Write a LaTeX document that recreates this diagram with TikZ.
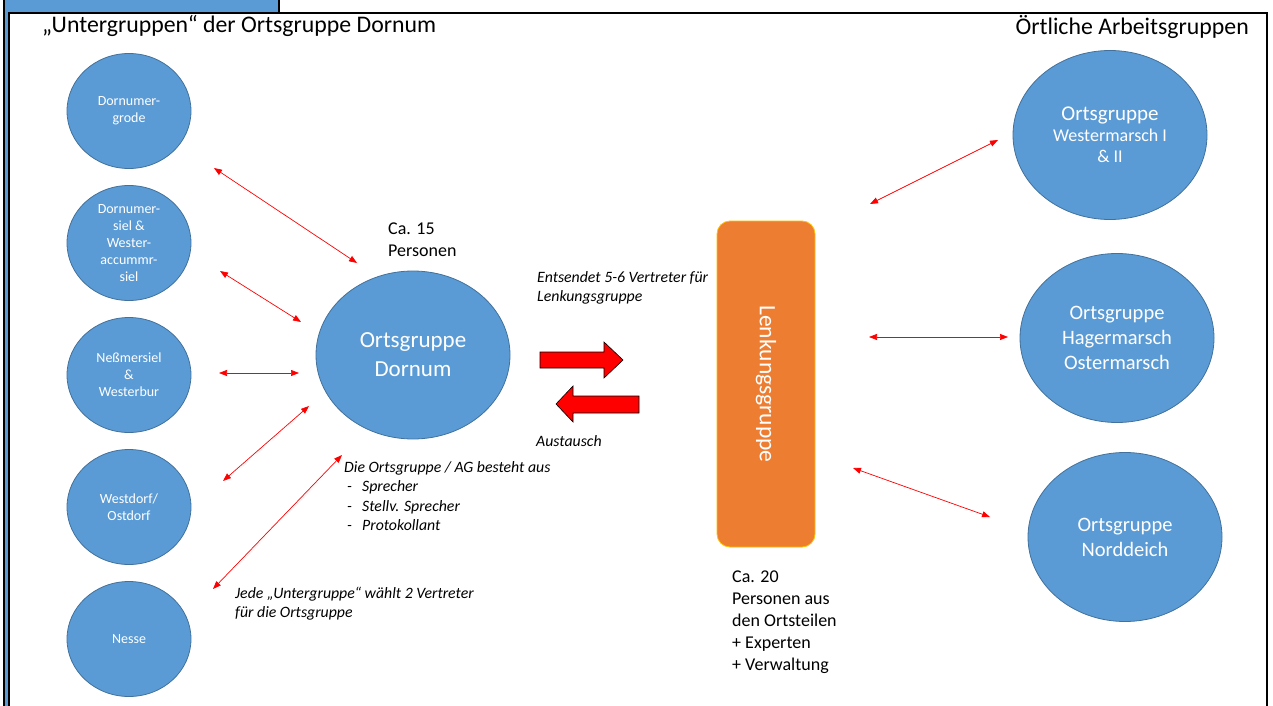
\documentclass[tikz,border=0pt]{standalone}
\usepackage{fontspec}
\setmainfont{Carlito}
\usetikzlibrary{shapes.geometric,arrows.meta}

\definecolor{groupblue}{HTML}{5B9BD5}
\definecolor{groupedge}{HTML}{41719C}
\definecolor{steerorange}{HTML}{ED7D31}
\definecolor{steeredge}{HTML}{FFC000}

\newcommand{\dashitem}[1]{\hspace*{3pt}\makebox[15pt][l]{-}#1}

\begin{document}
\begin{tikzpicture}[x=1pt,y=-1pt]
    \tikzstyle{group}=[ellipse,fill=groupblue,draw=groupedge,line width=0.8pt,text=white,inner sep=0pt,align=center]
    \tikzstyle{subgroup}=[group,minimum width=124pt,minimum height=115pt]
    \tikzstyle{subtext}=[text=white,align=center,inner sep=0pt,font=\fontsize{14}{17}\selectfont]
    \tikzstyle{local group}=[group,minimum width=194pt,minimum height=169pt,font=\fontsize{20.5}{25}\selectfont]
    \tikzstyle{steer}=[rectangle,rounded corners=13pt,fill=steerorange,draw=steeredge,line width=0.8pt,text=white,minimum width=326pt,minimum height=98pt,font=\fontsize{23.5}{28}\selectfont]
    \tikzstyle{link}=[red,line width=0.7pt,{Triangle[length=8pt,width=6pt]}-{Triangle[length=8pt,width=6pt]}]
    \tikzstyle{note}=[inner sep=0pt,align=left,anchor=west,font=\fontsize{15.8}{19.2}\selectfont\itshape]
    \tikzstyle{info}=[inner sep=0pt,align=left,anchor=west,font=\fontsize{18}{22}\selectfont]
    \tikzstyle{heading}=[inner sep=0pt,font=\fontsize{23.8}{28}\selectfont]
    \tikzstyle{big arrow}=[fill=red,draw=black,line width=0.6pt]

    \useasboundingbox (0,0) rectangle (1273,706);

    % Slide frame
    \draw[fill=groupblue,line width=1.5pt] (4,-5) rectangle (279,720);
    \draw[fill=white,line width=1.5pt] (9,13) rectangle (1267,720);

    % Headings
    \node[heading,anchor=base west] (sub-head) at (42,33) {„Untergruppen“ der Ortsgruppe Dornum};
    \node[heading,anchor=base east] (local-head) at (1249,35) {Örtliche Arbeitsgruppen};

    % Draw the sub group nodes
    \foreach \name/\y/\txt in {1/111/{Dornumer-\\grode},
                               2/243/{Dornumer-\\siel \&\\Wester-\\accummr-\\siel},
                               3/375/{Neßmersiel\\\&\\Westerbur},
                               4/507/{Westdorf/\\Ostdorf},
                               5/639/{Nesse}}
        \node[subgroup,label={[subtext]center:\txt}] (U-\name) at (129,\y) {};

    % Draw the Dornum group node
    \node[group,minimum width=194pt,minimum height=168pt,font=\fontsize{23}{29}\selectfont] (D) at (413,355) {Ortsgruppe\\Dornum};
    \node[info] (D-size) at (388,240) {Ca. 15\\Personen};

    % Draw the steering group node
    \node[steer,rotate=-90] (L) at (766,384) {Lenkungsgruppe};
    \node[info] (L-size) at (732,622) {Ca. 20\\Personen aus\\den Ortsteilen\\+ Experten\\+ Verwaltung};

    % Draw the local group nodes
    \node[local group,font=\fontsize{18}{21}\selectfont] (W) at (1110,135) {{\fontsize{21}{21}\selectfont Ortsgruppe}\\Westermarsch I\\\& II};
    \node[local group] (H) at (1117,338) {Ortsgruppe\\Hagermarsch\\Ostermarsch};
    \node[local group] (N) at (1125,537) {Ortsgruppe\\Norddeich};

    % Annotate
    \node[note] (send) at (537,288) {Entsendet 5-6 Vertreter für\\Lenkungsgruppe};
    \node[note] (swap) at (536,441) {Austausch};
    \node[note] (D-members) at (344,496) {Die Ortsgruppe / AG besteht aus\\\dashitem{Sprecher}\\\dashitem{Stellv. Sprecher}\\\dashitem{Protokollant}};
    \node[note] (vote) at (235,604) {Jede „Untergruppe“ wählt 2 Vertreter\\für die Ortsgruppe};

    % Exchange arrows
    \draw[big arrow] (540,352) -- (604,352) -- (604,342) -- (623,360) -- (604,378) -- (604,368) -- (540,368) -- cycle;
    \draw[big arrow] (639,396) -- (573,396) -- (573,386) -- (556,404) -- (573,422) -- (573,413) -- (639,413) -- cycle;

    % Link ends
    \coordinate (U1-a) at (214,168); \coordinate (D-a) at (357,263);
    \coordinate (U2-a) at (220,271); \coordinate (D-b) at (301,322);
    \coordinate (U3-a) at (219,373); \coordinate (D-c) at (299,373);
    \coordinate (U4-a) at (223,481); \coordinate (D-d) at (309,406);
    \coordinate (U5-a) at (213,589); \coordinate (D-e) at (342,455);
    \coordinate (L-a) at (870,204);  \coordinate (W-a) at (998,140);
    \coordinate (L-b) at (869,337);  \coordinate (H-a) at (1008,337);
    \coordinate (L-c) at (853,468);  \coordinate (N-a) at (990,517);

    % Connect the groups
    \foreach \source/\dest in {U1-a/D-a,U2-a/D-b,U3-a/D-c,U4-a/D-d,U5-a/D-e,L-a/W-a,L-b/H-a,L-c/N-a}
        \draw[link] (\source) -- (\dest);
\end{tikzpicture}
\end{document}
